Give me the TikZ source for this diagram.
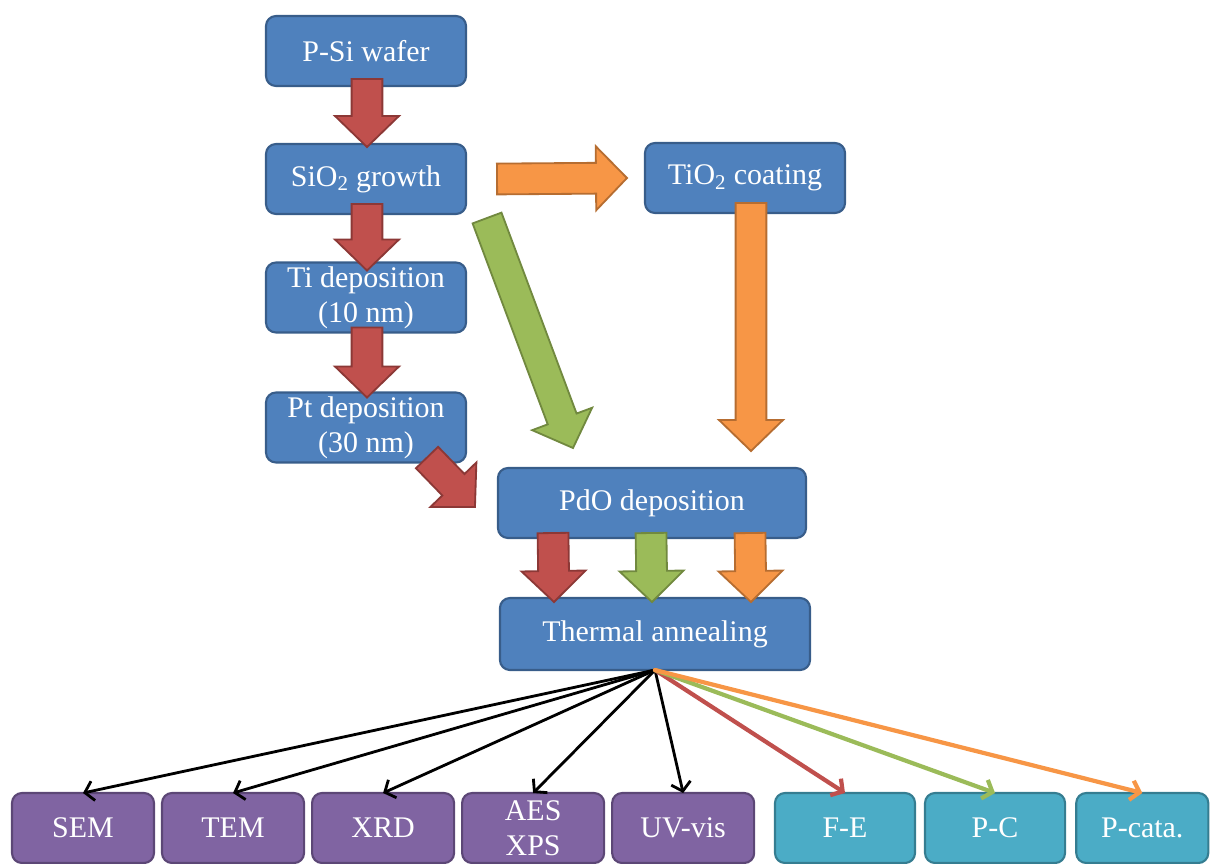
\documentclass[tikz,border=0pt]{standalone}
\usepackage{fontspec}
\setmainfont{Liberation Serif}
\usetikzlibrary{calc,positioning,arrows.meta}

\definecolor{boxblue}{HTML}{4F81BD}
\definecolor{boxblueline}{HTML}{385D8A}
\definecolor{boxpurple}{HTML}{8064A2}
\definecolor{boxpurpleline}{HTML}{5C4776}
\definecolor{boxcyan}{HTML}{4BACC6}
\definecolor{boxcyanline}{HTML}{357D91}
\definecolor{arred}{HTML}{C0504D}
\definecolor{arredline}{HTML}{8C3836}
\definecolor{argreen}{HTML}{9BBB59}
\definecolor{argreenline}{HTML}{71893F}
\definecolor{arorange}{HTML}{F79646}
\definecolor{arorangeline}{HTML}{B66D31}

\def\shaftw{0.385cm}
\def\headw{0.8cm}
\def\headl{0.775cm}
% block arrow from #2 to #3 (tip at #3)
\newcommand\fatarrow[3][]{%
  \path #2 coordinate (fa-s) #3 coordinate (fa-e);
  \path ($(fa-e)!\headl!(fa-s)$) coordinate (fa-h);
  \draw[#1] ($(fa-s)!\shaftw!90:(fa-e)$) -- ($(fa-h)!\shaftw!90:(fa-e)$)
    -- ($(fa-h)!\headw!90:(fa-e)$) -- (fa-e) -- ($(fa-h)!\headw!-90:(fa-e)$)
    -- ($(fa-h)!\shaftw!-90:(fa-e)$) -- ($(fa-s)!\shaftw!-90:(fa-e)$) -- cycle;}

\begin{document}
\begin{tikzpicture}[
        x=0.025cm, y=-0.025cm,
        every node/.style={rectangle, rounded corners=0.25cm, line width=1.5pt, text=white,
            minimum height=1.75cm, inner sep=0pt, outer sep=0pt, align=center,
            font=\fontsize{21.3}{25}\selectfont},
        stage/.style={fill=boxblue, draw=boxblueline, minimum width=5cm},
        probe/.style={fill=boxpurple, draw=boxpurpleline, minimum width=3.55cm},
        perf/.style={fill=boxcyan, draw=boxcyanline, minimum width=3.5cm},
        redfat/.style={fill=arred, draw=arredline, line width=1.3pt},
        greenfat/.style={fill=argreen, draw=argreenline, line width=1.3pt},
        orangefat/.style={fill=arorange, draw=arorangeline, line width=1.3pt},
        link/.style={line width=2pt, line cap=round, -{Straight Barb[length=6pt,width=14pt]}},
        colorlink/.style={link, line width=3pt},
    ]
    \useasboundingbox (0,0) rectangle (1210,863);

    % process steps
    \node [stage] (wafer) at (366,51) {P-Si wafer};
    \node [stage] (sio2) at (366,179) {SiO\textsubscript{2} growth};
    \node [stage] (ti) at (366,297.5) {Ti deposition\\(10 nm)};
    \node [stage] (pt) at (366,427.5) {Pt deposition\\(30 nm)};
    \node [stage] (tio2) at (745,178) {TiO\textsubscript{2} coating};
    \node [stage, minimum width=7.7cm] (pdo) at (652,503) {PdO deposition};
    \node [stage, minimum width=7.75cm, minimum height=1.8cm] (ann) at (655,634) {Thermal annealing};

    % characterisation and applications
    \node [probe] (sem) at (83,828) {SEM};
    \node [probe, right=0.2cm of sem] (tem) {TEM};
    \node [probe, right=0.2cm of tem] (xrd) {XRD};
    \node [probe, right=0.2cm of xrd] (aes) {AES\\XPS};
    \node [probe, right=0.2cm of aes] (uv) {UV-vis};
    \node [perf, right=0.52cm of uv] (fe) {F-E};
    \node [perf, right=0.25cm of fe] (pc) {P-C};
    \node [perf, right=0.28cm of pc, minimum width=3.3cm] (pcata) {P-cata.};

    % block arrows
    \fatarrow[redfat]{($(wafer.south)+(1,-7)$)}{($(sio2.north)+(1,3)$)}
    \fatarrow[redfat]{($(sio2.south)+(1,-10)$)}{($(ti.north)+(1,8)$)}
    \fatarrow[redfat]{($(ti.south)+(1,-5)$)}{($(pt.north)+(1,5)$)}
    \fatarrow[redfat]{($(pt.south east)+(-39,-5)$)}{($(pdo.west)+(-23,4)$)}
    \fatarrow[orangefat]{($(sio2.east)+(31,0)$)}{($(tio2.west)+(-18,0)$)}
    \fatarrow[orangefat]{($(tio2.south)+(6,-10)$)}{($(tio2.south |- pdo.north)+(6,-17)$)}
    \fatarrow[greenfat]{($(sio2.south east)+(21,4)$)}{($(pdo.north)+(-79,-20)$)}
    \fatarrow[redfat]{($(pdo.south)+(-99,-5)$)}{($(ann.north)+(-101,4)$)}
    \fatarrow[greenfat]{($(pdo.south)+(-1,-5)$)}{($(ann.north)+(-3,4)$)}
    \fatarrow[orangefat]{($(pdo.south)+(98,-5)$)}{($(ann.north)+(96,4)$)}

    % connectors
    \foreach \t in {sem,tem,xrd,aes,uv}
        \draw [link] (ann.south) -- (\t.north);
    \draw [colorlink, arred] (ann.south) -- (fe.north);
    \draw [colorlink, argreen] (ann.south) -- (pc.north);
    \draw [colorlink, arorange] (ann.south) -- (pcata.north);
\end{tikzpicture}
\end{document}
